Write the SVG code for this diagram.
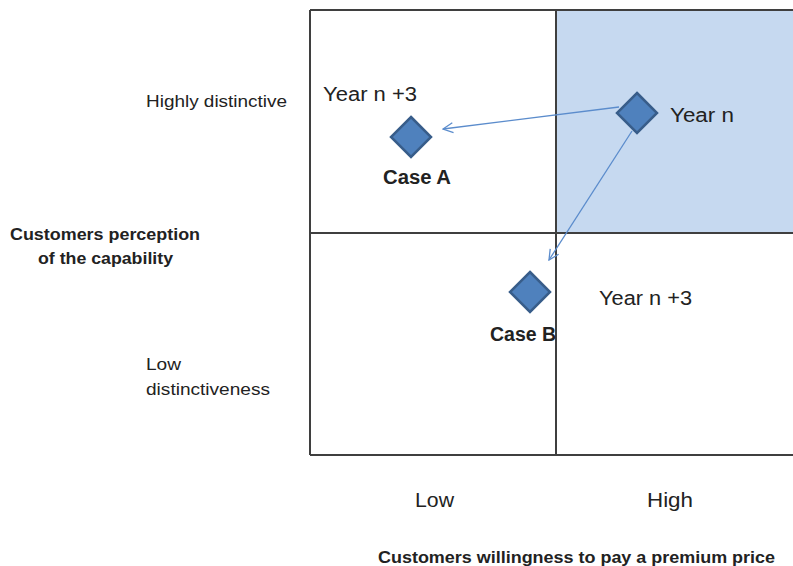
<svg xmlns="http://www.w3.org/2000/svg" width="793" height="566" viewBox="0 0 793 566">
  <style>
    .grid { stroke: #3f3f3f; stroke-width: 2; fill: none; }
    .lbl { font-family: "Liberation Sans", Arial, sans-serif; fill: #222; }
    .small { font-size: 16px; }
    .mid { font-size: 20px; }
    .bold { font-weight: bold; }
    .point { fill: #4f81bd; stroke: #385d8a; stroke-width: 2.5; }
    .arrow { stroke: #5b8ccc; stroke-width: 1.3; fill: none; marker-end: url(#open); }
  </style>
  <defs>
    <marker id="open" viewBox="0 0 12 12" refX="11" refY="6" markerWidth="12" markerHeight="12" markerUnits="userSpaceOnUse" orient="auto">
      <path d="M1,1 L11,6 L1,11" fill="none" stroke="#5b8ccc" stroke-width="1.3"/>
    </marker>
  </defs>

  <rect width="793" height="566" fill="#ffffff"/>

  <!-- matrix -->
  <g id="matrix">
    <rect x="556" y="10" width="237" height="223" fill="#c6d9f0"/>
    <line class="grid" x1="310" y1="10" x2="793" y2="10"/>
    <line class="grid" x1="310" y1="233" x2="793" y2="233"/>
    <line class="grid" x1="310" y1="455" x2="793" y2="455"/>
    <line class="grid" x1="310" y1="10" x2="310" y2="455"/>
    <line class="grid" x1="556" y1="10" x2="556" y2="455"/>
  </g>

  <!-- axis labels -->
  <g id="axis-y">
    <text class="lbl small" x="146" y="107" textLength="141" lengthAdjust="spacingAndGlyphs">Highly distinctive</text>
    <text class="lbl small bold" x="10" y="240" textLength="190" lengthAdjust="spacingAndGlyphs">Customers perception</text>
    <text class="lbl small bold" x="38" y="264" textLength="135" lengthAdjust="spacingAndGlyphs">of the capability</text>
    <text class="lbl small" x="146" y="370" textLength="35" lengthAdjust="spacingAndGlyphs">Low</text>
    <text class="lbl small" x="146" y="395" textLength="124" lengthAdjust="spacingAndGlyphs">distinctiveness</text>
  </g>
  <g id="axis-x">
    <text class="lbl mid" x="415" y="507" textLength="39" lengthAdjust="spacingAndGlyphs">Low</text>
    <text class="lbl mid" x="647" y="507" textLength="46" lengthAdjust="spacingAndGlyphs">High</text>
    <text class="lbl small bold" x="378" y="563" textLength="397" lengthAdjust="spacingAndGlyphs">Customers willingness  to pay a premium price</text>
  </g>

  <!-- connectors -->
  <g id="connectors">
    <line class="arrow" x1="619" y1="107" x2="443" y2="129"/>
    <line class="arrow" x1="632" y1="131" x2="549" y2="260"/>
  </g>

  <!-- points -->
  <g id="year-n">
    <path class="point" d="M637,93 L657,113 L637,133 L617,113 Z"/>
    <text class="lbl mid" x="670" y="122" textLength="64" lengthAdjust="spacingAndGlyphs">Year n</text>
  </g>
  <g id="case-a">
    <path class="point" d="M411,117 L431,137 L411,157 L391,137 Z"/>
    <text class="lbl mid" x="323" y="101" textLength="94" lengthAdjust="spacingAndGlyphs">Year n +3</text>
    <text class="lbl mid bold" x="383" y="184" textLength="68" lengthAdjust="spacingAndGlyphs">Case A</text>
  </g>
  <g id="case-b">
    <path class="point" d="M530,272 L550,292 L530,312 L510,292 Z"/>
    <text class="lbl mid" x="599" y="305" textLength="93" lengthAdjust="spacingAndGlyphs">Year n +3</text>
    <text class="lbl mid bold" x="490" y="341" textLength="66" lengthAdjust="spacingAndGlyphs">Case B</text>
  </g>
</svg>
